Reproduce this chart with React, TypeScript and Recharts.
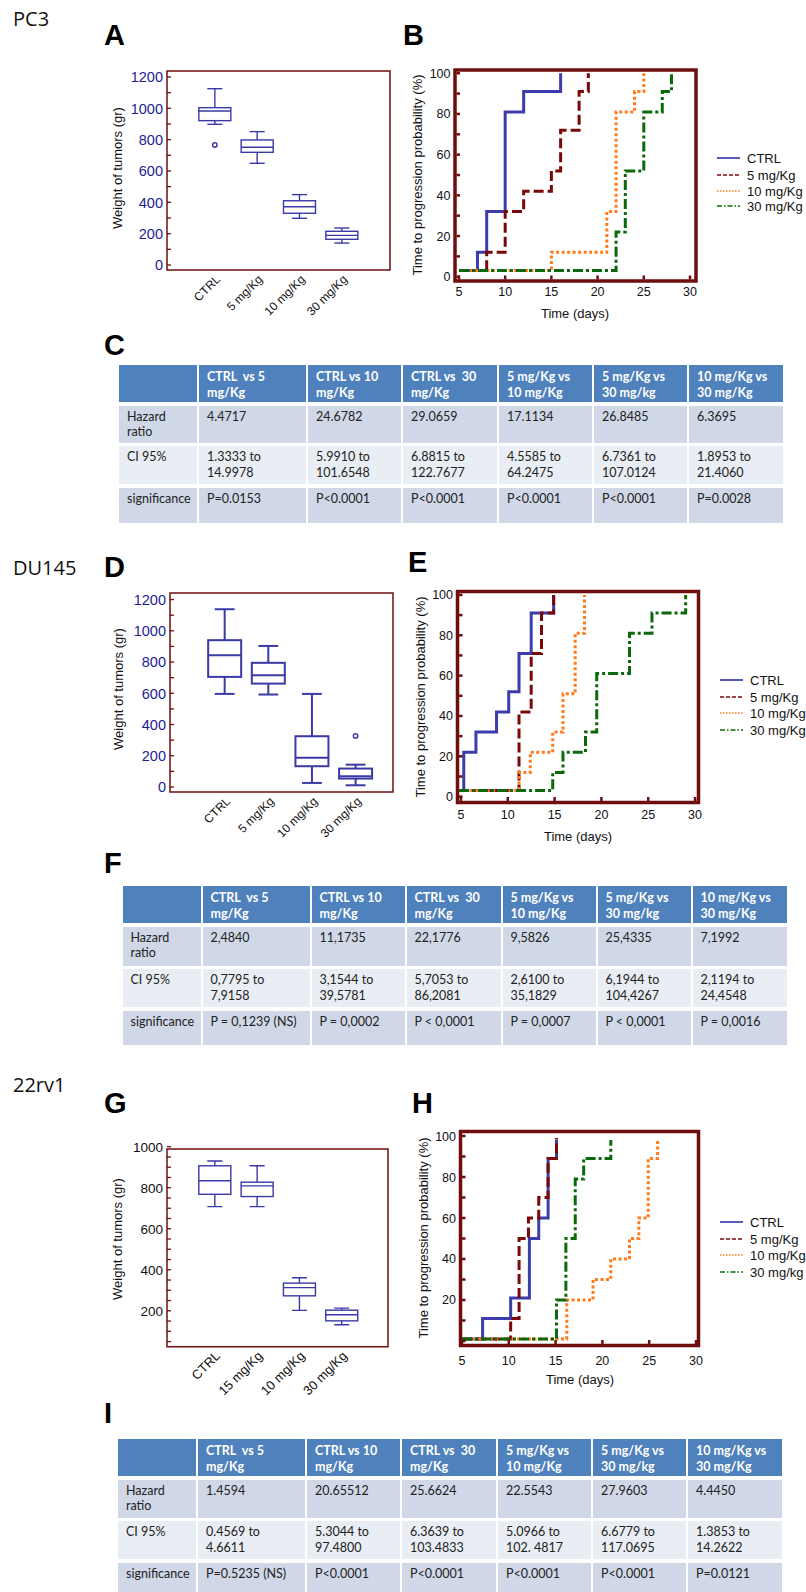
import React from "react";
import { ComposedChart, LineChart, Line, Bar, XAxis, YAxis, ReferenceArea } from "recharts";

// ---------- tumor weight box plots (gr) ----------
const catsPC3 = ["CTRL", "5 mg/Kg", "10 mg/Kg", "30 mg/Kg"];
const minPC3 = [898, 649, 298, 140];
const q1PC3 = [921, 719, 330, 164];
const medPC3 = [983, 751, 372, 189];
const q3PC3 = [1004, 798, 410, 215];
const maxPC3 = [1125, 851, 449, 236];
const outPC3 = [766, null, null, null];

const catsDU = ["CTRL", "5 mg/Kg", "10 mg/Kg", "30 mg/Kg"];
const minDU = [596, 592, 26, 11];
const q1DU = [705, 662, 133, 54];
const medDU = [844, 716, 188, 69];
const q3DU = [940, 795, 325, 118];
const maxDU = [1138, 903, 596, 143];
const outDU = [null, null, null, 327];

const cats22 = ["CTRL", "15 mg/Kg", "10 mg/Kg", "30 mg/Kg"];
const min22 = [708, 708, 202, 132];
const q1_22 = [768, 757, 273, 151];
const med22 = [834, 809, 313, 181];
const q3_22 = [907, 827, 335, 203];
const max22 = [930, 907, 361, 213];
const out22 = [null, null, null, null];

// ---------- time to progression (step curves) ----------
const bCtrlDays = [5, 7, 8, 10, 12, 16];
const bCtrlProb = [3, 12, 32, 81, 91, 100];
const b5Days = [5, 8, 10, 12, 15, 16, 18, 19];
const b5Prob = [3, 12, 32, 42, 52, 72, 91, 100];
const b10Days = [5, 15, 21, 22, 24, 25];
const b10Prob = [3, 12, 32, 81, 91, 100];
const b30Days = [5, 22, 23, 25, 27, 28];
const b30Prob = [3, 22, 52, 81, 91, 100];

const eCtrlDays = [4.8, 5.3, 6.6, 8.8, 10.1, 11.2, 12.5, 14.9];
const eCtrlProb = [3, 22, 32, 42, 52, 71, 91, 100];
const e5Days = [4.8, 11.2, 12.5, 13.6, 14.9];
const e5Prob = [3, 42, 71, 91, 100];
const e10Days = [4.8, 11.2, 12.4, 14.8, 15.9, 17.2, 18.2];
const e10Prob = [3, 12, 22, 32, 51, 81, 100];
const e30Days = [4.8, 14.8, 15.9, 18.3, 19.5, 23, 25.4, 29];
const e30Prob = [3, 12, 22, 32, 61, 81, 91, 100];

const hCtrlDays = [5, 7.2, 10.2, 12.2, 13.2, 14.2, 15.1];
const hCtrlProb = [1, 11, 21, 50, 60, 89, 98];
const h5Days = [5, 10.2, 11.1, 12.1, 13.2, 14.2, 15.1];
const h5Prob = [1, 11, 50, 60, 70, 89, 99];
const h10Days = [5, 16.2, 19, 20.9, 22.9, 23.9, 24.9, 25.9];
const h10Prob = [1, 20, 30, 40, 50, 60, 89, 98];
const h30Days = [5, 15.1, 16.1, 17.1, 18, 20.9];
const h30Prob = [1, 20, 50, 79, 89, 98];

const dayTicks = [5, 10, 15, 20, 25, 30];
const probTicks = [0, 10, 20, 30, 40, 50, 60, 70, 80, 90, 100];
const legendBE = ["CTRL", "5 mg/Kg", "10 mg/Kg", "30 mg/Kg"];
const legendH = ["CTRL", "5 mg/Kg", "10 mg/Kg", "30 mg/kg"];

// ---------- hazard ratio tables ----------
const tableHeaders = [
  "",
  "CTRL  vs 5\nmg/Kg",
  "CTRL vs 10\nmg/Kg",
  "CTRL vs  30\nmg/Kg",
  "5 mg/Kg vs\n10 mg/Kg",
  "5 mg/Kg vs\n30 mg/kg",
  "10 mg/Kg vs\n30 mg/Kg",
];
const rowLabels = ["Hazard\nratio", "CI 95%", "significance"];

const hazardC = ["4.4717", "24.6782", "29.0659", "17.1134", "26.8485", "6.3695"];
const ciC = ["1.3333 to\n14.9978", "5.9910 to\n101.6548", "6.8815 to\n122.7677", "4.5585 to\n64.2475", "6.7361 to\n107.0124", "1.8953 to\n21.4060"];
const sigC = ["P=0.0153", "P<0.0001", "P<0.0001", "P<0.0001", "P<0.0001", "P=0.0028"];

const hazardF = ["2,4840", "11,1735", "22,1776", "9,5826", "25,4335", "7,1992"];
const ciF = ["0,7795 to\n7,9158", "3,1544 to\n39,5781", "5,7053 to\n86,2081", "2,6100 to\n35,1829", "6,1944 to\n104,4267", "2,1194 to\n24,4548"];
const sigF = ["P = 0,1239 (NS)", "P = 0,0002", "P < 0,0001", "P = 0,0007", "P < 0,0001", "P = 0,0016"];

const hazardI = ["1.4594", "20.65512", "25.6624", "22.5543", "27.9603", "4.4450"];
const ciI = ["0.4569 to\n4.6611", "5.3044 to\n97.4800", "6.3639 to\n103.4833", "5.0966 to\n102. 4817", "6.6779 to\n117.0695", "1.3853 to\n14.2622"];
const sigI = ["P=0.5235 (NS)", "P<0.0001", "P<0.0001", "P<0.0001", "P<0.0001", "P=0.0121"];

const FRAME = "#6e0e0e";
const BOX_BLUE = "#3a3aa6";
const LABEL_BLUE = "#1c1c96";
const SANS = "'Liberation Sans', Arial, sans-serif";

const seriesStyle = [
  { color: "#3c3caa", dash: undefined, legendDash: undefined },
  { color: "#7a0808", dash: "10 4", legendDash: "4 2" },
  { color: "#ff7b1c", dash: "3 2.5", legendDash: "1.5 1.5" },
  { color: "#0b690b", dash: "10 3 3 3", legendDash: "5 2 1.5 2" },
];

const pts = (days: number[], prob: number[]) => days.map((d, i) => ({ day: d, p: prob[i] }));

const boxRows = (cats: string[], mins: number[], q1: number[], med: number[], q3: number[], maxs: number[], outs: (number | null)[]) =>
  cats.map((c, i) => ({ idx: i, cat: c, min: mins[i], q1: q1[i], med: med[i], q3: q3[i], max: maxs[i], outlier: outs[i] }));

const boxShape = (capRatio: number, sw: number) => (props: any) => {
  const { x, y, width, height, payload } = props;
  if (!payload || !Number.isFinite(y) || !Number.isFinite(height)) return <g />;
  const top = Math.min(y, y + height);
  const bot = Math.max(y, y + height);
  const k = (bot - top) / (payload.max - payload.min);
  const py = (v: number) => bot - (v - payload.min) * k;
  const cx = x + width / 2;
  const half = (width * capRatio) / 2;
  return (
    <g stroke={BOX_BLUE} strokeWidth={sw} fill="none">
      <line x1={cx} x2={cx} y1={py(payload.max)} y2={py(payload.q3)} />
      <line x1={cx} x2={cx} y1={py(payload.q1)} y2={py(payload.min)} />
      <line x1={cx - half} x2={cx + half} y1={py(payload.max)} y2={py(payload.max)} />
      <line x1={cx - half} x2={cx + half} y1={py(payload.min)} y2={py(payload.min)} />
      <rect x={x} y={py(payload.q3)} width={width} height={py(payload.q1) - py(payload.q3)} fill="#fff" />
      <line x1={x} x2={x + width} y1={py(payload.med)} y2={py(payload.med)} />
      {payload.outlier != null && <circle cx={cx} cy={py(payload.outlier)} r={2.2} strokeWidth={1.5} />}
    </g>
  );
};

function BoxPanel(p: any) {
  const rows = boxRows(p.cats, p.mins, p.q1, p.med, p.q3, p.maxs, p.outs);
  const yTick = (props: any) => {
    const { x, y, payload } = props;
    const v = payload.value;
    const ax = x + 4;
    return (
      <g>
        <line x1={ax} x2={ax + 4} y1={y} y2={y} stroke={FRAME} strokeWidth={1.3} />
        {p.showLabel(v) && (
          <text x={x} y={y} dy="0.36em" textAnchor="end" fontSize={p.tickFont} fill={p.tickColor}>
            {v}
          </text>
        )}
      </g>
    );
  };
  const xTick = (props: any) => {
    const { x, y, payload } = props;
    const tx = x + 6;
    const ty = y + 10;
    return (
      <text x={tx} y={ty} transform={`rotate(-45 ${tx} ${ty})`} textAnchor="end" fontSize={p.catFont} fill="#111">
        {p.cats[payload.value]}
      </text>
    );
  };
  return (
    <div style={{ position: "absolute", left: p.left, top: p.top }}>
      <ComposedChart width={p.width} height={p.height} data={rows} margin={p.margin}>
        <XAxis type="number" dataKey="idx" domain={p.xDomain} allowDataOverflow ticks={[0, 1, 2, 3]} interval={0}
          tickSize={0} tickMargin={0} axisLine={false} height={50} tick={xTick} />
        <YAxis type="number" domain={p.yDomain} allowDataOverflow ticks={p.yTicks} interval={0}
          tickSize={0} tickMargin={4} axisLine={false} width={50} tick={yTick} />
        <Bar dataKey={(d: any) => [d.min, d.max]} barSize={p.barSize} shape={boxShape(p.capRatio, p.sw)} isAnimationActive={false} />
        <ReferenceArea x1={p.xDomain[0]} x2={p.xDomain[1]} y1={p.frameY[0]} y2={p.frameY[1]}
          fill="none" fillOpacity={0} stroke={FRAME} strokeWidth={1.5} ifOverflow="visible" />
      </ComposedChart>
    </div>
  );
}

function KmPanel(p: any) {
  const xTick = (props: any) => {
    const { x, y, payload } = props;
    const ay = y - p.xTickMargin;
    return (
      <g>
        <line x1={x} x2={x} y1={ay - 1.5} y2={ay - 5.5} stroke={FRAME} strokeWidth={2.5} />
        <text x={x} y={y} dy="0.71em" textAnchor="middle" fontSize={12.5} fill="#111">
          {payload.value}
        </text>
      </g>
    );
  };
  const yTick = (props: any) => {
    const { x, y, payload } = props;
    const ax = x + 4.5;
    return (
      <g>
        <line x1={ax + 1.5} x2={ax + 5} y1={y} y2={y} stroke={FRAME} strokeWidth={2.5} />
        {p.yLabels.includes(payload.value) && (
          <text x={x} y={y} dy="0.36em" textAnchor="end" fontSize={12.5} fill="#111">
            {payload.value}
          </text>
        )}
      </g>
    );
  };
  return (
    <div style={{ position: "absolute", left: p.left, top: p.top }}>
      <LineChart width={p.width} height={p.height} margin={p.margin}>
        <XAxis type="number" dataKey="day" domain={p.xDomain} allowDataOverflow ticks={dayTicks} interval={0}
          tickSize={0} tickMargin={p.xTickMargin} axisLine={false} height={30} tick={xTick} />
        <YAxis type="number" domain={p.yDomain} allowDataOverflow ticks={probTicks} interval={0}
          tickSize={0} tickMargin={4.5} axisLine={false} width={40} tick={yTick} />
        {p.series.map((s: any, i: number) => (
          <Line key={i} data={s} dataKey="p" type="stepAfter" stroke={seriesStyle[i].color}
            strokeWidth={3} strokeDasharray={seriesStyle[i].dash} dot={false} activeDot={false}
            isAnimationActive={false} />
        ))}
        <ReferenceArea x1={p.xDomain[0]} x2={p.xDomain[1]} y1={p.yDomain[0]} y2={p.yDomain[1]}
          fill="none" fillOpacity={0} stroke={FRAME} strokeWidth={3.5} ifOverflow="visible" />
      </LineChart>
    </div>
  );
}

const COL_W = [78, 107, 93, 94, 93, 93, 94];

function StatsTable(p: any) {
  const body = [p.hazard, p.ci, p.sig];
  return (
    <div
      style={{
        position: "absolute",
        left: p.left,
        top: p.top,
        display: "grid",
        gridTemplateColumns: COL_W.map((w) => w + "px").join(" "),
        gridTemplateRows: p.rowH.map((h: number) => h + "px").join(" "),
        columnGap: 2,
        rowGap: 3.5,
        fontFamily: "Lato, 'Open Sans', sans-serif",
        fontSize: 12.5,
        lineHeight: "15.6px",
      }}
    >
      {tableHeaders.map((h, i) => (
        <div key={"h" + i} style={{ background: "#4f81bd", color: "#fff", fontWeight: 700, padding: "4px 8px", whiteSpace: "pre" }}>
          {h}
        </div>
      ))}
      {body.map((vals: string[], r: number) =>
        [rowLabels[r], ...vals].map((v, c) => (
          <div key={r + "-" + c}
            style={{ background: r === 1 ? "#e9edf4" : "#d0d8e8", color: "#222", padding: "3px 8px", whiteSpace: "pre" }}>
            {v}
          </div>
        ))
      )}
    </div>
  );
}

function Legend({ x, rows, labels }: { x: number; rows: number[]; labels: string[] }) {
  return (
    <g>
      {labels.map((l, i) => (
        <g key={l}>
          <line x1={x} x2={x + 23} y1={rows[i]} y2={rows[i]} stroke={seriesStyle[i].color} strokeWidth={1.7}
            strokeDasharray={seriesStyle[i].legendDash} />
          <text x={x + 30} y={rows[i]} dy="0.36em" fontSize={13} fill="#111">
            {l}
          </text>
        </g>
      ))}
    </g>
  );
}

const boxYTicks = Array.from({ length: 13 }, (_, i) => i * 100);
const gYTicks = Array.from({ length: 20 }, (_, i) => 50 + i * 50);

export default function App() {
  const letters: [string, number, number][] = [
    ["A", 104, 45], ["B", 403, 45], ["C", 104, 355], ["D", 104, 577], ["E", 408, 572],
    ["F", 104, 873], ["G", 104, 1113], ["H", 412, 1113], ["I", 104, 1423],
  ];
  const titles: [string, number, number][] = [["PC3", 13, 26], ["DU145", 13, 575], ["22rv1", 13, 1092]];
  const yLabelsBox: [number, number][] = [[117, 168], [118, 689], [117, 1239]];
  const yLabelsKm: [number, number][] = [[417, 175], [420, 697], [423, 1238]];
  const xLabelsKm: [number, number][] = [[575, 313], [578, 836], [580, 1379]];

  return (
    <div style={{ position: "absolute", left: 0, top: 0, width: 806, height: 1592, overflow: "hidden", background: "#fff", fontFamily: SANS }}>
      <svg width={806} height={1592} style={{ position: "absolute", left: 0, top: 0 }}>
        {titles.map(([t, x, y]) => (
          <text key={t} x={x} y={y} fontSize={20} fontFamily="'Open Sans', 'Noto Sans', sans-serif" fill="#111">{t}</text>
        ))}
        {letters.map(([t, x, y]) => (
          <text key={t} x={x} y={y} fontSize={29} fontWeight={700} fontFamily={SANS} fill="#000">{t}</text>
        ))}
        {yLabelsBox.map(([x, y], i) => (
          <text key={"yb" + i} x={x} y={y} transform={`rotate(-90 ${x} ${y})`} textAnchor="middle" dy="0.36em" fontSize={13} fontFamily={SANS} fill="#111">
            Weight of tumors (gr)
          </text>
        ))}
        {yLabelsKm.map(([x, y], i) => (
          <text key={"yk" + i} x={x} y={y} transform={`rotate(-90 ${x} ${y})`} textAnchor="middle" dy="0.36em" fontSize={13} fontFamily={SANS} fill="#111">
            Time to progression probability (%)
          </text>
        ))}
        {xLabelsKm.map(([x, y], i) => (
          <text key={"xk" + i} x={x} y={y} textAnchor="middle" dy="0.36em" fontSize={13} fontFamily={SANS} fill="#111">
            Time (days)
          </text>
        ))}
        <g fontFamily={SANS}>
          <Legend x={717} rows={[158, 175, 191, 206]} labels={legendBE} />
          <Legend x={720} rows={[680, 697, 713, 730]} labels={legendBE} />
          <Legend x={720} rows={[1222, 1239, 1255, 1272]} labels={legendH} />
        </g>
      </svg>

      <BoxPanel left={90} top={40} width={310} height={280} margin={{ top: 31, right: 10, left: 27, bottom: 0 }}
        cats={catsPC3} mins={minPC3} q1={q1PC3} med={medPC3} q3={q3PC3} maxs={maxPC3} outs={outPC3}
        xDomain={[-1.134, 4.134]} yDomain={[-32, 1238]} frameY={[-32, 1238]} yTicks={boxYTicks}
        showLabel={(v: number) => v % 200 === 0} tickColor={LABEL_BLUE} tickFont={14.5} catFont={12}
        barSize={32} capRatio={0.47} sw={1.4} />
      <KmPanel left={400} top={40} width={312} height={290} margin={{ top: 30, right: 16, left: 15, bottom: 19 }}
        xDomain={[4.57, 30.65]} yDomain={[-2.1, 101.6]} xTickMargin={6} yLabels={[0, 20, 40, 60, 80, 100]}
        series={[pts(bCtrlDays, bCtrlProb), pts(b5Days, b5Prob), pts(b10Days, b10Prob), pts(b30Days, b30Prob)]} />
      <StatsTable left={119} top={365} rowH={[37, 37, 38, 35]} hazard={hazardC} ci={ciC} sig={sigC} />

      <BoxPanel left={90} top={560} width={310} height={290} margin={{ top: 33, right: 7, left: 30, bottom: 8 }}
        cats={catsDU} mins={minDU} q1={q1DU} med={medDU} q3={q3DU} maxs={maxDU} outs={outDU}
        xDomain={[-1.26, 3.85]} yDomain={[-32, 1242]} frameY={[-32, 1242]} yTicks={boxYTicks}
        showLabel={(v: number) => v % 200 === 0} tickColor={LABEL_BLUE} tickFont={14.5} catFont={12}
        barSize={33} capRatio={0.6} sw={2} />
      <KmPanel left={400} top={560} width={312} height={280} margin={{ top: 31.5, right: 13.5, left: 17.5, bottom: 7.5 }}
        xDomain={[4.63, 30.37]} yDomain={[-2.9, 101.7]} xTickMargin={8} yLabels={[0, 20, 40, 60, 80, 100]}
        series={[pts(eCtrlDays, eCtrlProb), pts(e5Days, e5Prob), pts(e10Days, e10Prob), pts(e30Days, e30Prob)]} />
      <StatsTable left={122.5} top={886} rowH={[37, 39, 38, 34]} hazard={hazardF} ci={ciF} sig={sigF} />

      <BoxPanel left={90} top={1110} width={310} height={290} margin={{ top: 36.7, right: 12, left: 27, bottom: 3.3 }}
        cats={cats22} mins={min22} q1={q1_22} med={med22} q3={q3_22} maxs={max22} outs={out22}
        xDomain={[-1.134, 4.09]} yDomain={[25, 1000]} frameY={[25, 989]} yTicks={gYTicks}
        showLabel={(v: number) => v % 200 === 0} tickColor="#111" tickFont={13.5} catFont={13}
        barSize={32} capRatio={0.47} sw={1.4} />
      <KmPanel left={400} top={1100} width={312} height={290} margin={{ top: 31.5, right: 13.5, left: 20.5, bottom: 14.5 }}
        xDomain={[4.84, 30.27]} yDomain={[-2.2, 102.2]} xTickMargin={11} yLabels={[20, 40, 60, 80, 100]}
        series={[pts(hCtrlDays, hCtrlProb), pts(h5Days, h5Prob), pts(h10Days, h10Prob), pts(h30Days, h30Prob)]} />
      <StatsTable left={118} top={1439} rowH={[37, 38, 38, 35]} hazard={hazardI} ci={ciI} sig={sigI} />
    </div>
  );
}
